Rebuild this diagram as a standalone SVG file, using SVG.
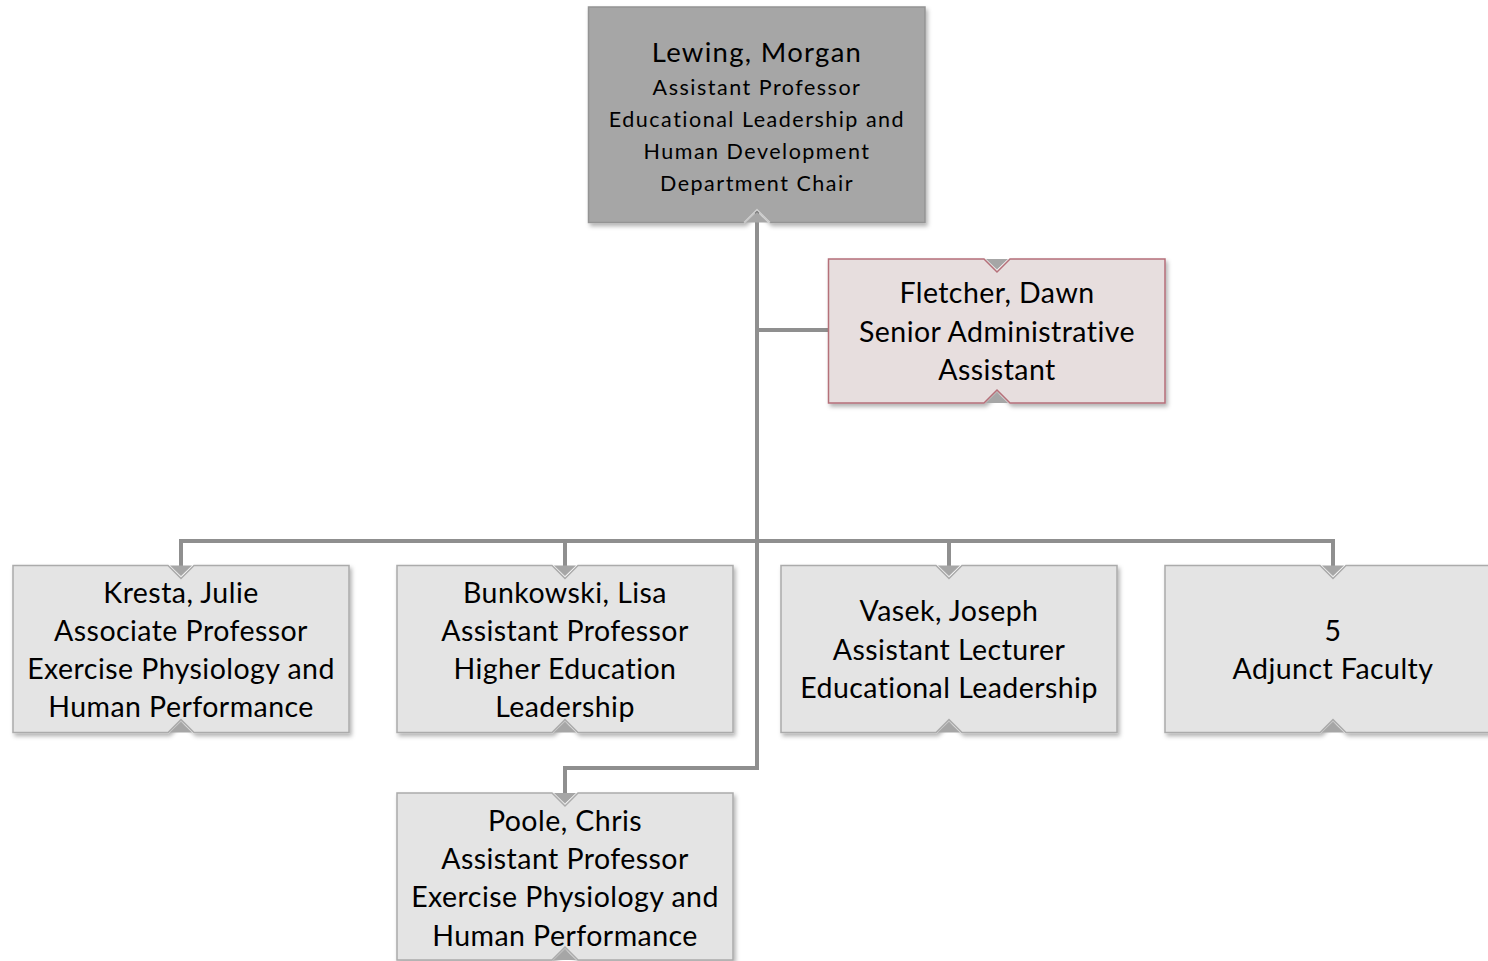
<svg xmlns="http://www.w3.org/2000/svg" width="1488" height="961" viewBox="0 0 1488 961">
<defs>
<filter id="sh" x="-5%" y="-5%" width="115%" height="120%">
<feDropShadow dx="2" dy="3" stdDeviation="2" flood-color="#000" flood-opacity="0.3"/>
</filter>
<style>
.box{fill:#e4e4e4;stroke:#ababab;stroke-width:1.5;filter:url(#sh)}
.root{fill:#a6a6a6;stroke:#949494;stroke-width:1.5;filter:url(#sh)}
.asst{fill:#e7dede;stroke:#b56f79;stroke-width:1.5;filter:url(#sh)}
.tri{fill:#a6a6a6}
.conn{fill:none;stroke:#8f8f8f;stroke-width:4}
text{font-family:Lato,"Liberation Sans",sans-serif;fill:#000;text-anchor:middle}
.t{font-size:28.5px;letter-spacing:0.45px}
.rn{font-size:27.5px;letter-spacing:1.3px}
.rs{font-size:21.5px;letter-spacing:1.5px}
</style>
</defs>
<rect width="1488" height="961" fill="#fff"/>
<g id="connectors">
<path class="conn" d="M757 210 V768 H565 V793"/>
<path class="conn" d="M757 330 H829"/>
<path class="conn" d="M181 566 V541 H1333 V566"/>
<path class="conn" d="M565 541 V566"/>
<path class="conn" d="M949 541 V566"/>
</g>
<g id="node-lewing">
<path class="root" d="M588.5 7 H925 V222.5 H770 L757 209.5 L744 222.5 H588.5 Z"/>
<path class="tri" d="M746 222.5 H768 L757 212 Z"/>
<path d="M744 222.5 L757 209.5 L770 222.5" fill="none" stroke="#d0d0d0" stroke-width="1.5"/>
<text x="757" y="62" class="rn">Lewing, Morgan</text>
<text x="757" y="95" class="rs">Assistant Professor</text>
<text x="757" y="127" class="rs">Educational Leadership and</text>
<text x="757" y="159" class="rs">Human Development</text>
<text x="757" y="191" class="rs">Department Chair</text>
</g>
<g id="node-fletcher">
<path class="asst" d="M828.5 259 H984 L997 272 L1010 259 H1165 V403 H1010 L997 390 L984 403 H828.5 Z"/>
<path class="tri" d="M986 259 H1008 L997 269.5 Z"/>
<path class="tri" d="M986 403 H1008 L997 392.5 Z"/>
<text x="997" y="303" class="t">Fletcher, Dawn</text>
<text x="997" y="342" class="t">Senior Administrative</text>
<text x="997" y="380" class="t">Assistant</text>
</g>
<g id="node-kresta">
<path class="box" d="M13 565.5 H168 L181 578.5 L194 565.5 H349 V732.5 H194 L181 719.5 L168 732.5 H13 Z"/>
<path class="tri" d="M170 565.5 H192 L181 576 Z"/>
<path class="tri" d="M170 732.5 H192 L181 722 Z"/>
<text x="181" y="603" class="t">Kresta, Julie</text>
<text x="181" y="641" class="t">Associate Professor</text>
<text x="181" y="679" class="t">Exercise Physiology and</text>
<text x="181" y="717" class="t">Human Performance</text>
</g>
<g id="node-bunkowski">
<path class="box" d="M397 565.5 H552 L565 578.5 L578 565.5 H733 V732.5 H578 L565 719.5 L552 732.5 H397 Z"/>
<path class="tri" d="M554 565.5 H576 L565 576 Z"/>
<path class="tri" d="M554 732.5 H576 L565 722 Z"/>
<text x="565" y="603" class="t">Bunkowski, Lisa</text>
<text x="565" y="641" class="t">Assistant Professor</text>
<text x="565" y="679" class="t">Higher Education</text>
<text x="565" y="717" class="t">Leadership</text>
</g>
<g id="node-vasek">
<path class="box" d="M781 565.5 H936 L949 578.5 L962 565.5 H1117 V732.5 H962 L949 719.5 L936 732.5 H781 Z"/>
<path class="tri" d="M938 565.5 H960 L949 576 Z"/>
<path class="tri" d="M938 732.5 H960 L949 722 Z"/>
<text x="949" y="621" class="t">Vasek, Joseph</text>
<text x="949" y="660" class="t">Assistant Lecturer</text>
<text x="949" y="698" class="t">Educational Leadership</text>
</g>
<g id="node-adjunct">
<path class="box" d="M1165 565.5 H1320 L1333 578.5 L1346 565.5 H1501 V732.5 H1346 L1333 719.5 L1320 732.5 H1165 Z"/>
<path class="tri" d="M1322 565.5 H1344 L1333 576 Z"/>
<path class="tri" d="M1322 732.5 H1344 L1333 722 Z"/>
<text x="1333" y="641" class="t">5</text>
<text x="1333" y="679" class="t">Adjunct Faculty</text>
</g>
<g id="node-poole">
<path class="box" d="M397 793 H552 L565 806 L578 793 H733 V960 H578 L565 947 L552 960 H397 Z"/>
<path class="tri" d="M554 793 H576 L565 803.5 Z"/>
<path class="tri" d="M554 960 H576 L565 949.5 Z"/>
<text x="565" y="831" class="t">Poole, Chris</text>
<text x="565" y="869" class="t">Assistant Professor</text>
<text x="565" y="907" class="t">Exercise Physiology and</text>
<text x="565" y="946" class="t">Human Performance</text>
</g>
</svg>
